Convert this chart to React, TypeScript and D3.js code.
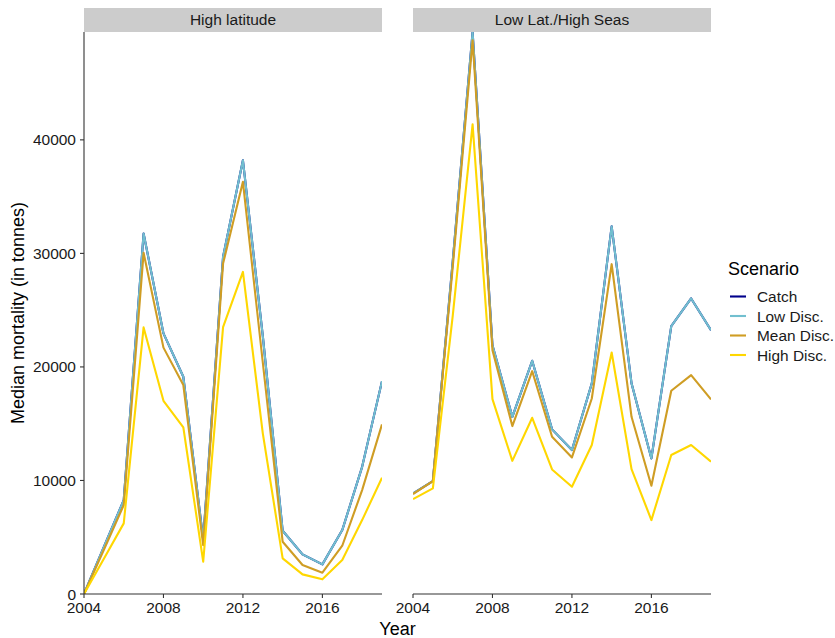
import React from "react";
import * as d3 from "d3";

const years = [2004, 2005, 2006, 2007, 2008, 2009, 2010, 2011, 2012, 2013, 2014, 2015, 2016, 2017, 2018, 2019];
const panels = ["High latitude", "Low Lat./High Seas"];
const scenarios = ["Catch", "Low Disc.", "Mean Disc.", "High Disc."];
const colors = ["#00008B", "#72BFCF", "#CF9D24", "#FFD700"];
const yTicks = [0, 10000, 20000, 30000, 40000];
const xTicks = [2004, 2008, 2012, 2016];

const highLatCatch = [0, 4150, 8270, 31750, 22950, 19130, 4800, 29700, 38200, 22740, 5570, 3490, 2610, 5630, 11200, 18750];
const highLatLow = [0, 4150, 8270, 31750, 22950, 19130, 4800, 29700, 38200, 22740, 5570, 3490, 2610, 5630, 11200, 18750];
const highLatMean = [0, 3900, 7830, 30050, 21700, 18400, 4300, 29100, 36300, 20390, 4600, 2550, 1880, 4250, 9150, 14940];
const highLatHigh = [0, 3100, 6220, 23480, 17020, 14670, 2850, 23500, 28370, 14150, 3140, 1730, 1290, 2990, 6510, 10240];

const lowLatCatch = [8860, 9950, 29300, 49500, 21900, 15600, 20540, 14500, 12680, 18550, 32390, 18550, 11940, 23590, 26030, 23240];
const lowLatLow = [8860, 9950, 29300, 49500, 21900, 15600, 20540, 14500, 12680, 18550, 32390, 18550, 11940, 23590, 26030, 23240];
const lowLatMean = [8800, 9950, 28800, 48770, 21480, 14790, 19630, 13850, 12030, 17220, 29050, 15610, 9540, 17900, 19280, 17140];
const lowLatHigh = [8360, 9300, 24500, 41370, 17170, 11730, 15520, 10970, 9450, 13120, 21270, 11000, 6510, 12240, 13120, 11650];

const panelSeries = [
  [highLatCatch, highLatLow, highLatMean, highLatHigh],
  [lowLatCatch, lowLatLow, lowLatMean, lowLatHigh],
];

const W = 835;
const H = 638;
const panelX = [[84, 382], [413, 711]];
const top = 32;
const bottom = 594;
const font = "'Liberation Sans', Arial, sans-serif";
const textCol = "#1a1a1a";

export default function App() {
  const y = d3.scaleLinear().domain([0, 49500]).range([bottom, top]);
  return (
    <svg width={W} height={H} style={{ position: "absolute", left: 0, top: 0, background: "#fff" }} fontFamily={font}>
      <defs>
        {panelX.map((r, i) => (
          <clipPath id={`clip${i}`} key={i}>
            <rect x={r[0]} y={top} width={r[1] - r[0]} height={bottom - top} />
          </clipPath>
        ))}
      </defs>
      {panelX.map((r, pi) => {
        const x = d3.scaleLinear().domain([2004, 2019]).range(r);
        const line = d3
          .line<number>()
          .x((_, i) => x(years[i]))
          .y((d) => y(d));
        return (
          <g key={pi}>
            <rect x={r[0]} y={8} width={r[1] - r[0]} height={24} fill="#CCCCCC" />
            <text x={(r[0] + r[1]) / 2} y={25} textAnchor="middle" fontSize={15.5} fill={textCol}>
              {panels[pi]}
            </text>
            <g clipPath={`url(#clip${pi})`}>
              {panelSeries[pi].map((s, si) => (
                <path key={si} d={line(s) || ""} fill="none" stroke={colors[si]} strokeWidth={2.1} strokeLinejoin="round" />
              ))}
            </g>
            <line x1={r[0]} x2={r[1]} y1={bottom} y2={bottom} stroke="#333" strokeWidth={1.1} />
            {xTicks.map((t) => (
              <g key={t}>
                <line x1={x(t)} x2={x(t)} y1={bottom} y2={bottom + 4} stroke="#333" strokeWidth={1.1} />
                <text x={x(t)} y={613} textAnchor="middle" fontSize={15.5} fill={textCol}>
                  {t}
                </text>
              </g>
            ))}
          </g>
        );
      })}
      <line x1={84} x2={84} y1={top} y2={bottom} stroke="#333" strokeWidth={1.1} />
      {yTicks.map((t) => (
        <g key={t}>
          <line x1={80} x2={84} y1={y(t)} y2={y(t)} stroke="#333" strokeWidth={1.1} />
          <text x={76} y={y(t) + 5.5} textAnchor="end" fontSize={15.5} fill={textCol}>
            {t}
          </text>
        </g>
      ))}
      <text x={397.5} y={635} textAnchor="middle" fontSize={18} fill="#000">
        Year
      </text>
      <text transform={`translate(23.5,${(top + bottom) / 2}) rotate(-90)`} textAnchor="middle" fontSize={18} fill="#000">
        Median mortality (in tonnes)
      </text>
      <text x={728} y={275} fontSize={18} fill="#000">
        Scenario
      </text>
      {scenarios.map((s, i) => {
        const cy = 296.5 + i * 19.5;
        return (
          <g key={s}>
            <line x1={730} x2={746} y1={cy} y2={cy} stroke={colors[i]} strokeWidth={2.1} />
            <text x={757} y={cy + 5.5} fontSize={15.4} fill={textCol}>
              {s}
            </text>
          </g>
        );
      })}
    </svg>
  );
}
